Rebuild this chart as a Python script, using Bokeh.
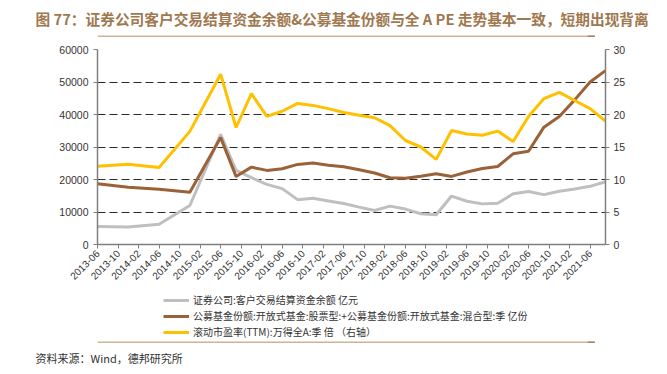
from bokeh.plotting import figure
from bokeh.layouts import column
from bokeh.models import (Range1d, LinearAxis, FixedTicker, Legend, LegendItem,
                          ColumnDataSource, Title)
from bokeh.embed import file_html
from bokeh.resources import INLINE

# ---------------- data ----------------
dates = ["2013-06", "2013-12", "2014-06", "2014-12", "2015-06", "2015-09", "2015-12",
         "2016-03", "2016-06", "2016-09", "2016-12", "2017-03", "2017-06", "2017-09",
         "2017-12", "2018-03", "2018-06", "2018-09", "2018-12", "2019-03", "2019-06",
         "2019-09", "2019-12", "2020-03", "2020-06", "2020-09", "2020-12", "2021-03",
         "2021-06", "2021-09"]

client_funds = [5550, 5350, 6250, 12000, 33900, 22800, 20550, 18500, 17200, 13800,
                14200, 13400, 12600, 11500, 10450, 11800, 10900, 9450, 9150, 14900,
                13300, 12500, 12700, 15600, 16300, 15350, 16400, 17100, 17900, 19300]

fund_shares = [18700, 17600, 17000, 16050, 32900, 20950, 23800, 22800, 23300, 24650,
               25050, 24400, 23900, 23000, 22000, 20550, 20400, 21000, 21800, 20950,
               22300, 23400, 24000, 27900, 28700, 36100, 39400, 44500, 50000, 53500]

pe_ttm = [12.05, 12.35, 11.85, 17.4, 26.2, 18.0, 23.2, 19.7, 20.5, 21.7, 21.4, 20.9,
          20.3, 19.9, 19.5, 18.3, 16.0, 15.0, 13.1, 17.55, 17.0, 16.8, 17.45, 15.85,
          19.7, 22.45, 23.4, 22.15, 20.9, 19.0]

tick_labels = ["2013-06", "2013-10", "2014-02", "2014-06", "2014-10", "2015-02", "2015-06",
               "2015-10", "2016-02", "2016-06", "2016-10", "2017-02", "2017-06", "2017-10",
               "2018-02", "2018-06", "2018-10", "2019-02", "2019-06", "2019-10", "2020-02",
               "2020-06", "2020-10", "2021-02", "2021-06"]

series_names = ["证券公司:客户交易结算资金余额 亿元",
                "公募基金份额:开放式基金:股票型:+公募基金份额:开放式基金:混合型:季 亿份",
                "滚动市盈率(TTM):万得全A:季 倍 （右轴）"]
series_colors = ["#BFBFBF", "#9A6236", "#FFC000"]

title_text = "图 77：证券公司客户交易结算资金余额&公募基金份额与全 A PE 走势基本一致，短期出现背离"
source_text = "资料来源：Wind，德邦研究所"


def month_index(s):
    y, m = s.split("-")
    return (int(y) - 2013) * 12 + (int(m) - 6)


x = [month_index(d) for d in dates]
tick_pos = [month_index(t) for t in tick_labels]

src = ColumnDataSource(dict(x=x, cf=client_funds, fs=fund_shares, pe=pe_ttm))

# ---------------- layout constants (page pixels) ----------------
W, H = 667, 374
FL, FR, FT, FB = 97, 605, 49, 244     # main plot frame
TOP_END, MAIN_END = 42, 292           # page y where the top / main figures end

AX_COL = "#7f7f7f"
LBL_COL = "#333333"
FONT_NUM = "Liberation Sans"
CJK = "Noto Sans CJK SC"
TITLE_COL = "#A07850"
RULE_COL = "#CDB39A"
RULE_DARK = "#A88466"


def strip_fig(y_top, y_bot, frame_top, frame_bot):
    """Plain figure whose frame maps straight onto page pixels."""
    f = figure(width=W, height=y_bot - y_top, output_backend="svg",
               toolbar_location=None,
               x_range=Range1d(FL, W), y_range=Range1d(frame_bot, frame_top),
               x_axis_type=None, y_axis_type=None,
               min_border_left=FL, min_border_right=0,
               min_border_top=frame_top - y_top, min_border_bottom=y_bot - frame_bot)
    f.outline_line_color = None
    f.xgrid.visible = False
    f.ygrid.visible = False
    return f


def add_rule(f, py, px1):
    """Thin tan horizontal rule (with a darker end piece) as slim filled boxes."""
    f.quad(left=[FL], right=[px1], top=[py - 0.75], bottom=[py + 0.75],
           fill_color=RULE_COL, line_color=None)
    f.quad(left=[px1 - 8], right=[px1], top=[py - 0.75], bottom=[py + 0.75],
           fill_color=RULE_DARK, line_color=None)


# ---------------- top strip: title and rule ----------------
top = strip_fig(0, TOP_END, 30, 38)
top.add_layout(Title(text=title_text, align="left", offset=35 - FL, standoff=4,
                     vertical_align="bottom", text_font=CJK, text_font_size="14.7px",
                     text_font_style="bold", text_color=TITLE_COL), "above")
add_rule(top, 35.7, 655)

# ---------------- main chart ----------------
p = figure(width=W, height=MAIN_END - TOP_END, output_backend="svg",
           toolbar_location=None,
           x_range=Range1d(0, 99), y_range=Range1d(0, 60000),
           min_border_left=FL, min_border_right=W - FR,
           min_border_top=FT - TOP_END, min_border_bottom=MAIN_END - FB)
p.extra_y_ranges = {"pe": Range1d(0, 30)}
p.outline_line_color = None

xa = p.xaxis[0]
xa.ticker = FixedTicker(ticks=tick_pos)
xa.major_label_overrides = {t: l for t, l in zip(tick_pos, tick_labels)}
xa.major_label_orientation = 0.785398
xa.minor_tick_line_color = None
xa.major_tick_in = 0
xa.major_tick_out = 4
xa.axis_line_color = AX_COL
xa.axis_line_width = 1.5
xa.major_tick_line_color = AX_COL
xa.major_label_text_font = FONT_NUM
xa.major_label_text_font_size = "10px"
xa.major_label_text_color = LBL_COL
xa.major_label_standoff = 3

ya = p.yaxis[0]
ya.ticker = FixedTicker(ticks=[0, 10000, 20000, 30000, 40000, 50000, 60000])
ya.minor_tick_line_color = None
ya.major_tick_in = 0
ya.major_tick_out = 4
ya.axis_line_color = AX_COL
ya.axis_line_width = 1.5
ya.major_tick_line_color = AX_COL
ya.major_label_text_font = FONT_NUM
ya.major_label_text_font_size = "10.5px"
ya.major_label_text_color = LBL_COL
ya.major_label_standoff = 5

ra = LinearAxis(y_range_name="pe", ticker=FixedTicker(ticks=[0, 5, 10, 15, 20, 25, 30]))
ra.minor_tick_line_color = None
ra.major_tick_in = 0
ra.major_tick_out = 4
ra.axis_line_color = AX_COL
ra.axis_line_width = 1.5
ra.major_tick_line_color = AX_COL
ra.major_label_text_font = FONT_NUM
ra.major_label_text_font_size = "10.5px"
ra.major_label_text_color = LBL_COL
ra.major_label_standoff = 4
p.add_layout(ra, "right")

p.xgrid.grid_line_color = None
p.ygrid.grid_line_color = "#2b2b2b"
p.ygrid.grid_line_dash = "8 4"
p.ygrid.grid_line_width = 1
p.ygrid.ticker = FixedTicker(ticks=[10000, 20000, 30000, 40000, 50000, 60000])

p.line("x", "cf", source=src, line_color=series_colors[0], line_width=3)
p.line("x", "fs", source=src, line_color=series_colors[1], line_width=3)
p.line("x", "pe", source=src, line_color=series_colors[2], line_width=3,
       y_range_name="pe")

# ---------------- bottom strip: legend, rule, source ----------------
BOT_FRAME_END = 343
bot = strip_fig(MAIN_END, H, MAIN_END, BOT_FRAME_END)
nan = float("nan")
# legend keys (a renderer needs rows to draw its key; NaN rows draw nothing)
keys = [bot.line(x=[FL, FL + 1], y=[nan, nan], line_color=c, line_width=3)
        for c in series_colors]
ROW_PITCH, SPACING = 14, 1
LEG_TOP = 295.5
leg_h = 3 * ROW_PITCH + 2 * SPACING
legend = Legend(items=[LegendItem(label=n, renderers=[r]) for n, r in zip(series_names, keys)],
                location=(163 - FL, int(round(BOT_FRAME_END - (LEG_TOP + leg_h)))),
                orientation="vertical", padding=0, margin=0, spacing=SPACING,
                glyph_width=26, glyph_height=12, label_height=12,
                label_standoff=4, label_text_font=CJK, label_text_font_size="10px",
                label_text_color=LBL_COL, border_line_color=None,
                background_fill_alpha=0)
bot.add_layout(legend)
add_rule(bot, 341.7, 655)
bot.add_layout(Title(text=source_text, align="left", offset=35 - FL, standoff=13,
                     vertical_align="top", text_font=CJK, text_font_size="11px",
                     text_font_style="normal", text_color=LBL_COL), "below")

layout = column(top, p, bot, spacing=0)
open("out.html", "w").write(file_html(layout, INLINE))
